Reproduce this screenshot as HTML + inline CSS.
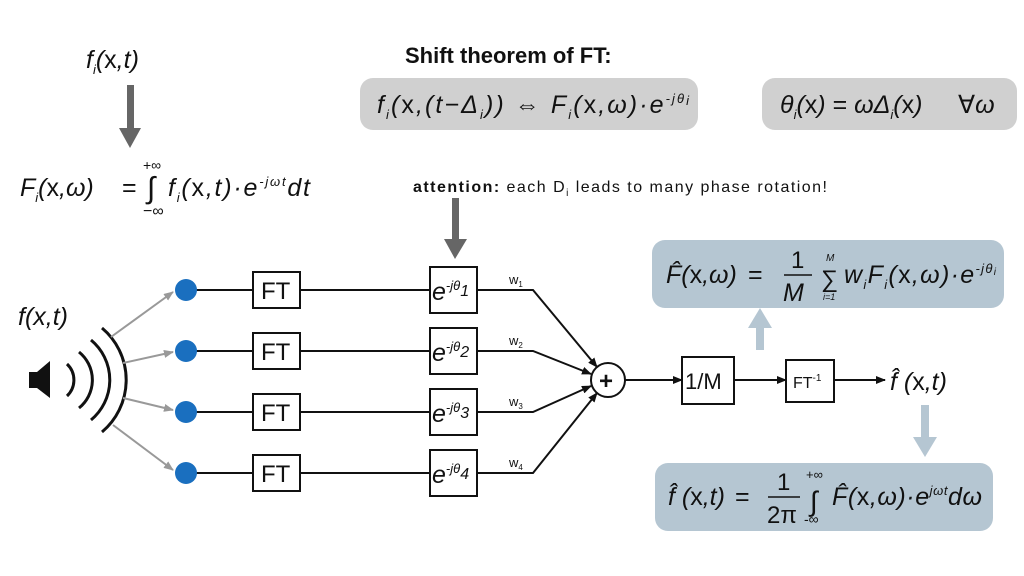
<!DOCTYPE html>
<html><head><meta charset="utf-8"><style>
html,body{margin:0;padding:0;background:#fff;}
svg{display:block;}
text{font-family:"Liberation Sans","DejaVu Sans",sans-serif;fill:#111;}
.m{font-style:italic;font-size:25px;}
.u{font-style:normal;}
.sub{font-size:13px;font-style:italic;}
.sup{font-size:13px;font-style:italic;}
</style></head><body>
<svg width="1024" height="576" viewBox="0 0 1024 576" xmlns="http://www.w3.org/2000/svg">
<defs>
<marker id="ab" markerWidth="10" markerHeight="8" refX="9" refY="4" orient="auto" markerUnits="userSpaceOnUse"><path d="M0,0 L10,4 L0,8 z" fill="#111"/></marker>
<marker id="ag" markerWidth="10" markerHeight="8" refX="9" refY="4" orient="auto" markerUnits="userSpaceOnUse"><path d="M0,0 L10,4 L0,8 z" fill="#999"/></marker>
</defs>

<!-- top left -->
<text x="86" y="68" class="m" font-size="27">f<tspan class="sub" dy="6">i</tspan><tspan dy="-6">(</tspan><tspan class="u">x</tspan>,t)</text>
<rect x="127" y="85" width="7" height="44" fill="#666"/>
<path d="M119,128 L141,128 L130,148 z" fill="#666"/>

<text x="20" y="196" class="m" font-size="27">F<tspan class="sub" dy="6">i</tspan><tspan dy="-6">(</tspan><tspan class="u">x</tspan>,ω)</text>
<text x="122" y="196" font-size="25">=</text>
<text x="143" y="170" font-size="14">+∞</text>
<text x="147" y="198" font-size="30">∫</text>
<text x="143" y="216" font-size="16">−∞</text>
<text x="168" y="196" class="m" font-size="27" textLength="142" lengthAdjust="spacing">f<tspan class="sub" dy="6">i</tspan><tspan dy="-6">(</tspan><tspan class="u">x</tspan>,t)·e<tspan class="sup" dy="-10">-jωt</tspan><tspan dy="10">dt</tspan></text>

<!-- title and boxes -->
<text x="405" y="63" font-size="22" font-weight="bold">Shift theorem of FT:</text>
<rect x="360" y="78" width="338" height="52" rx="13" fill="#d0d0d0"/>
<text x="377" y="113" class="m" font-size="26" textLength="312" lengthAdjust="spacing">f<tspan class="sub" dy="6">i</tspan><tspan dy="-6">(</tspan><tspan class="u">x</tspan>,(t−Δ<tspan class="sub" dy="6">i</tspan><tspan dy="-6">)) </tspan><tspan class="u">⇔</tspan> F<tspan class="sub" dy="6">i</tspan><tspan dy="-6">(</tspan><tspan class="u">x</tspan>,ω)·e<tspan class="sup" dy="-10">-jθ</tspan><tspan class="sub" dy="2" font-size="10">i</tspan></text>
<rect x="762" y="78" width="255" height="52" rx="13" fill="#d0d0d0"/>
<text x="780" y="113" class="m" font-size="26">θ<tspan class="sub" dy="6">i</tspan><tspan dy="-6">(</tspan><tspan class="u">x</tspan>) <tspan class="u">=</tspan> ωΔ<tspan class="sub" dy="6">i</tspan><tspan dy="-6">(</tspan><tspan class="u">x</tspan>)</text>
<text x="958" y="113" class="m" font-size="26"><tspan class="u">∀</tspan>ω</text>

<!-- attention -->
<text x="413" y="192" font-size="16" textLength="414" lengthAdjust="spacing"><tspan font-weight="bold">attention:</tspan> each D<tspan font-size="10" dy="4">i</tspan><tspan dy="-4"> leads to many phase rotation!</tspan></text>
<rect x="452" y="198" width="7" height="42" fill="#666"/>
<path d="M444,239 L467,239 L455,259 z" fill="#666"/>

<!-- speaker -->
<text x="18" y="325" class="m">f(x,t)</text>
<path d="M29,372 L37,372 L50,361 L50,398 L37,388 L29,388 z" fill="#111"/>
<g fill="none" stroke="#111" stroke-width="3">
<path d="M67,364 A22,22 0 0 1 67,396"/>
<path d="M79,352 A36,36 0 0 1 79,408"/>
<path d="M91,340 A52,52 0 0 1 91,420"/>
<path d="M102,328 A68,68 0 0 1 102,432"/>
</g>
<g stroke="#999" stroke-width="2" marker-end="url(#ag)">
<line x1="111" y1="337" x2="173" y2="292"/>
<line x1="123" y1="363" x2="173" y2="352"/>
<line x1="123" y1="398" x2="173" y2="410"/>
<line x1="113" y1="425" x2="173" y2="470"/>
</g>

<!-- rows -->
<g stroke="#111" stroke-width="2" fill="none">
<line x1="186" y1="290" x2="253" y2="290"/><line x1="300" y1="290" x2="430" y2="290"/>
<line x1="186" y1="351" x2="253" y2="351"/><line x1="300" y1="351" x2="430" y2="351"/>
<line x1="186" y1="412" x2="253" y2="412"/><line x1="300" y1="412" x2="430" y2="412"/>
<line x1="186" y1="473" x2="253" y2="473"/><line x1="300" y1="473" x2="430" y2="473"/>
<polyline points="477,290 533,290 597,367" marker-end="url(#ab)"/>
<polyline points="477,351 533,351 591,374" marker-end="url(#ab)"/>
<polyline points="477,412 533,412 591,386" marker-end="url(#ab)"/>
<polyline points="477,473 533,473 597,393" marker-end="url(#ab)"/>
<rect x="253" y="272" width="47" height="36" fill="#fff"/>
<rect x="253" y="333" width="47" height="36" fill="#fff"/>
<rect x="253" y="394" width="47" height="36" fill="#fff"/>
<rect x="253" y="455" width="47" height="36" fill="#fff"/>
<rect x="430" y="267" width="47" height="46" fill="#fff"/>
<rect x="430" y="328" width="47" height="46" fill="#fff"/>
<rect x="430" y="389" width="47" height="46" fill="#fff"/>
<rect x="430" y="450" width="47" height="46" fill="#fff"/>
</g>
<g fill="#1a6fbf">
<circle cx="186" cy="290" r="11"/><circle cx="186" cy="351" r="11"/>
<circle cx="186" cy="412" r="11"/><circle cx="186" cy="473" r="11"/>
</g>
<g font-size="24">
<text x="261" y="299">FT</text><text x="261" y="360">FT</text>
<text x="261" y="421">FT</text><text x="261" y="482">FT</text>
</g>
<g>
<text x="432" y="300" class="m">e<tspan class="sup" dy="-10">-jθ</tspan><tspan font-size="16" dy="6">1</tspan></text>
<text x="432" y="361" class="m">e<tspan class="sup" dy="-10">-jθ</tspan><tspan font-size="16" dy="6">2</tspan></text>
<text x="432" y="422" class="m">e<tspan class="sup" dy="-10">-jθ</tspan><tspan font-size="16" dy="6">3</tspan></text>
<text x="432" y="483" class="m">e<tspan class="sup" dy="-10">-jθ</tspan><tspan font-size="16" dy="6">4</tspan></text>
</g>
<g font-size="13">
<text x="509" y="284">w<tspan font-size="8" dy="3">1</tspan></text>
<text x="509" y="345">w<tspan font-size="8" dy="3">2</tspan></text>
<text x="509" y="406">w<tspan font-size="8" dy="3">3</tspan></text>
<text x="509" y="467">w<tspan font-size="8" dy="3">4</tspan></text>
</g>

<!-- sum -->
<circle cx="608" cy="380" r="17" fill="#fff" stroke="#111" stroke-width="2"/>
<text x="599" y="389" font-size="24" font-weight="bold">+</text>
<g stroke="#111" stroke-width="2" fill="none">
<line x1="625" y1="380" x2="682" y2="380" marker-end="url(#ab)"/>
<rect x="682" y="357" width="52" height="47" fill="#fff"/>
<line x1="734" y1="380" x2="786" y2="380" marker-end="url(#ab)"/>
<rect x="786" y="360" width="48" height="42" fill="#fff"/>
<line x1="834" y1="380" x2="885" y2="380" marker-end="url(#ab)"/>
</g>
<text x="685" y="389" font-size="22">1/M</text>
<text x="793" y="388" font-size="16">FT<tspan font-size="10" dy="-7">-1</tspan></text>
<text x="890" y="390" class="m" font-size="26">f̂ (<tspan class="u">x</tspan>,t)</text>

<!-- blue arrows -->
<rect x="756" y="327" width="8" height="23" fill="#b5c6d2"/>
<path d="M748,328 L772,328 L760,308 z" fill="#b5c6d2"/>
<rect x="921" y="405" width="8" height="33" fill="#b5c6d2"/>
<path d="M913,437 L937,437 L925,457 z" fill="#b5c6d2"/>

<!-- blue boxes -->
<rect x="652" y="240" width="352" height="68" rx="13" fill="#b5c6d2"/>
<text x="666" y="283" class="m" font-size="26">F̂(<tspan class="u">x</tspan>,ω)</text>
<text x="748" y="283" font-size="25">=</text>
<text x="791" y="268" font-size="24">1</text>
<line x1="784" y1="275" x2="812" y2="275" stroke="#111" stroke-width="1.5"/>
<text x="783" y="301" class="m" font-size="27">M</text>
<text x="826" y="261" font-size="10" font-style="italic">M</text>
<text x="821" y="287" font-size="24">∑</text>
<text x="823" y="300" font-size="9" font-style="italic">i=1</text>
<text x="844" y="283" class="m" font-size="26" textLength="152" lengthAdjust="spacing">w<tspan class="sub" dy="6">i</tspan><tspan dy="-6">F</tspan><tspan class="sub" dy="6">i</tspan><tspan dy="-6">(</tspan><tspan class="u">x</tspan>,ω)·e<tspan class="sup" dy="-10">-jθ</tspan><tspan font-size="10" dy="2">i</tspan></text>

<rect x="655" y="463" width="338" height="68" rx="13" fill="#b5c6d2"/>
<text x="668" y="505" class="m" font-size="26">f̂ (<tspan class="u">x</tspan>,t)</text>
<text x="735" y="505" font-size="25">=</text>
<text x="777" y="490" font-size="24">1</text>
<line x1="768" y1="497" x2="800" y2="497" stroke="#111" stroke-width="1.5"/>
<text x="767" y="523" font-size="24">2π</text>
<text x="806" y="479" font-size="13">+∞</text>
<text x="810" y="511" font-size="28">∫</text>
<text x="804" y="524" font-size="14">-∞</text>
<text x="832" y="505" class="m" font-size="26" textLength="150" lengthAdjust="spacing">F̂(<tspan class="u">x</tspan>,ω)·e<tspan class="sup" dy="-10">jωt</tspan><tspan dy="10">dω</tspan></text>
</svg>
</body></html>
